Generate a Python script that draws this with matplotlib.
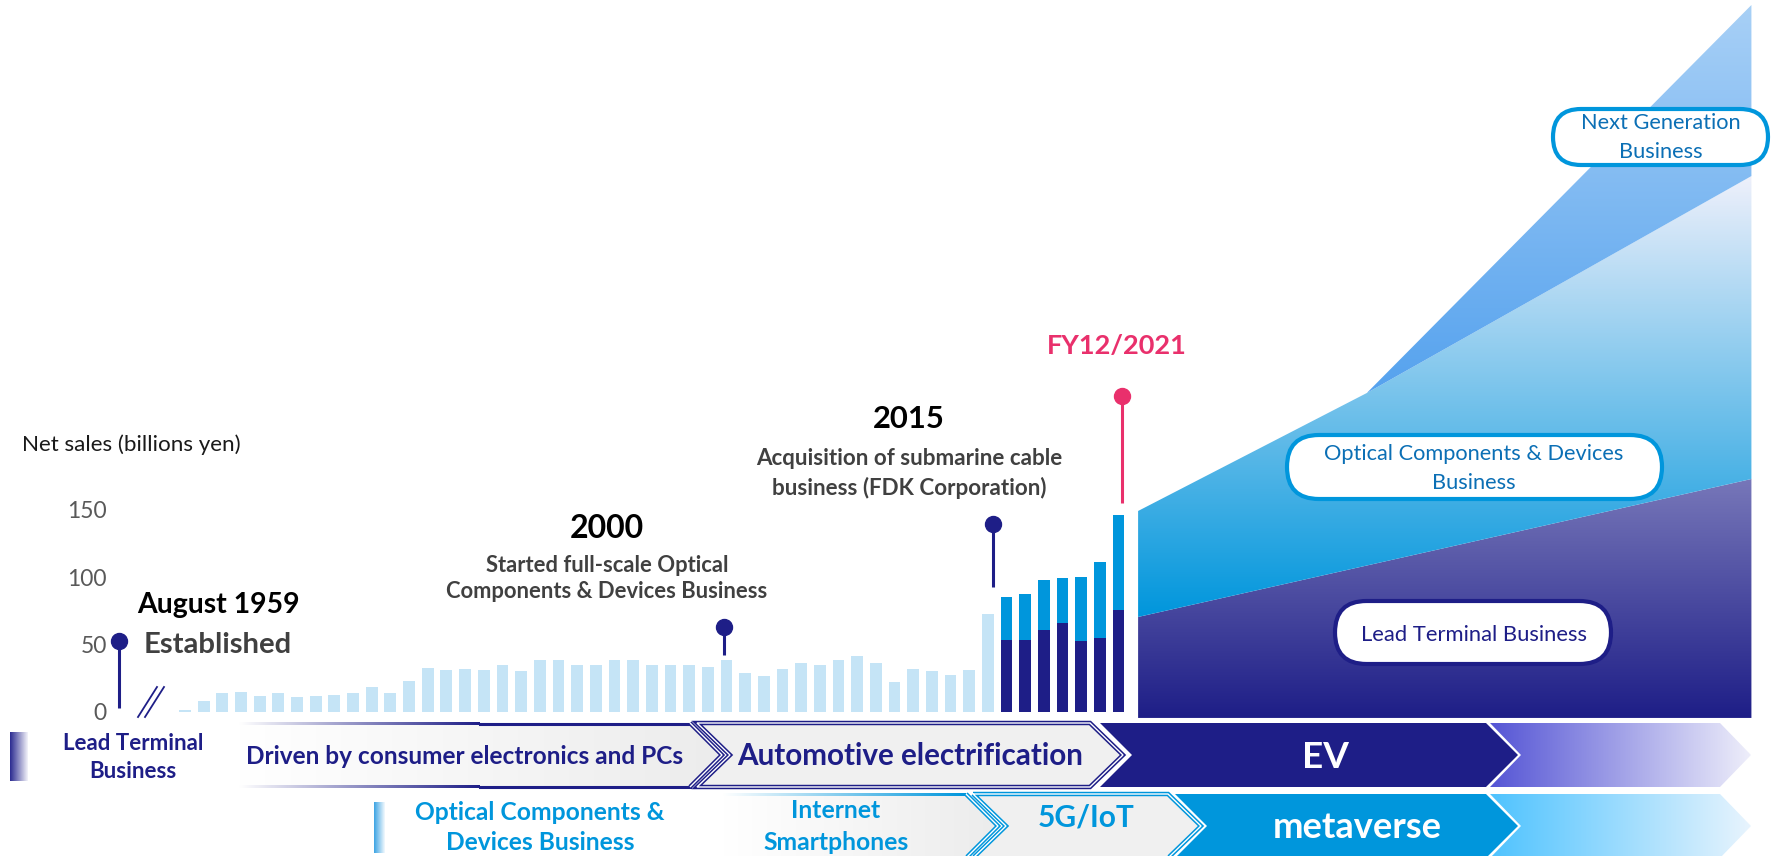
import numpy as np
import matplotlib.pyplot as plt
from matplotlib.patches import Polygon, FancyBboxPatch
from matplotlib.colors import to_rgba

plt.rcParams['font.family'] = ['Lato', 'DejaVu Sans']

#---------------------------- data ----------------------------
# net sales, billions of yen
years_old = list(range(1971, 2015))
sales_old = [1.2, 8.2, 13.8, 14.6, 12.1, 13.8, 11.4, 12.1, 12.8, 14.3,
             18.3, 14.3, 23.2, 32.6, 31.4, 31.9, 31.1, 35.1, 30.6, 38.3,
             38.8, 35.1, 35.1, 38.3, 38.5, 35.1, 35.1, 35.1, 33.6, 38.4,
             28.8, 26.9, 31.9, 36.3, 34.8, 38.5, 41.2, 36.3, 22.0, 32.1,
             30.1, 27.4, 30.9, 72.6]
years_seg = list(range(2015, 2022))
lead_sales = [53.6, 53.6, 60.5, 65.7, 52.6, 55.1, 75.8]
optical_sales = [31.6, 33.6, 37.0, 33.8, 47.4, 55.9, 70.1]
yticks = [0, 50, 100, 150]

# milestone pins: x position, stem bottom, pin head (same units as bars)
pin_x = [1967.46, 1999.85, 2014.28, 2021.19]
pin_base = [3.0, 42.2, 92.6, 154.8]
pin_top = [52.6, 63.0, 139.3, 234.0]

# outlook wedge after FY2021 (schematic)
out_x = [2022.05, 2034.3, 2054.9]
out_floor = -4.4
out_lead = [70.4, 172.6]          # at out_x[0], out_x[2]
out_optical = [148.9, 236.3, 397.0]
out_next = [236.3, 523.7]         # at out_x[1], out_x[2]

NAVY = '#1E1E87'
BLUE = '#0096DC'
LIGHT = '#C5E4F6'
PINK = '#E9306C'
GREY = '#404040'
BOXTXT = '#0B6FB5'

W, H = 1771, 856
fig = plt.figure(figsize=(W / 100, H / 100), dpi=100)

#------------------ bar axes (full figure) ------------------
# year 1971 sits at x=185px, 18.67px per year; value 0 at y=712px, 1.35px per billion
ax = fig.add_axes([0, 0, 1, 1])
ax.set_xlim(1971 - 185 / 18.67, 1971 + (W - 185) / 18.67)
ax.set_ylim(-(H - 712) / 1.35, 712 / 1.35)
for s in ax.spines.values():
    s.set_visible(False)
ax.set_xticks([])
ax.set_yticks(yticks)
ax.tick_params(axis='y', length=0, pad=-77, labelsize=16.5, labelcolor='#595959')

ax.bar(years_old, sales_old, width=0.63, color=LIGHT)
ax.bar(years_seg, lead_sales, width=0.63, color=NAVY)
ax.bar(years_seg, optical_sales, width=0.63, bottom=lead_sales, color=BLUE)

for x, b, t, c in zip(pin_x, pin_base, pin_top, [NAVY, NAVY, NAVY, PINK]):
    ax.plot([x, x], [b, t], color=c, lw=2.2, solid_capstyle='butt')
    ax.plot(x, t, 'o', ms=11.5, color=c)


def grad(axis, pts, c0, c1, vertical=False, z=1):
    # polygon filled with a linear gradient (c0 left/top -> c1 right/bottom)
    poly = Polygon(pts, closed=True, fc='none', ec='none')
    axis.add_patch(poly)
    xs = [p[0] for p in pts]
    ys = [p[1] for p in pts]
    t = np.linspace(0, 1, 256)[:, None]
    a, b = np.array(to_rgba(c0)), np.array(to_rgba(c1))
    cols = a + (b - a) * t
    img = cols[:, None, :] if vertical else cols[None, :, :]
    if axis.yaxis_inverted():
        ext = (min(xs), max(xs), max(ys), min(ys))
    else:
        ext = (min(xs), max(xs), min(ys), max(ys))
    im = axis.imshow(img, extent=ext, aspect='auto', interpolation='bilinear', zorder=z)
    im.set_clip_path(poly)


# outlook wedge
grad(ax, [(out_x[0], out_floor), (out_x[0], out_lead[0]), (out_x[2], out_lead[1]),
          (out_x[2], out_floor)], '#7777B9', NAVY, vertical=True)
grad(ax, [(out_x[0], out_lead[0]), (out_x[0], out_optical[0]), (out_x[1], out_optical[1]),
          (out_x[2], out_optical[2]), (out_x[2], out_lead[1])], '#EEF0FB', BLUE, vertical=True)
grad(ax, [(out_x[1], out_next[0]), (out_x[2], out_next[1]), (out_x[2], out_optical[2])],
     '#A8D0F6', '#55A2EE', vertical=True)

#------------------ decoration axes (pixel coords) ------------------
dk = fig.add_axes([0, 0, 1, 1])
dk.set_xlim(0, W)
dk.set_ylim(H, 0)
dk.axis('off')


def label(x, y, s, w=None, size=None, ha='center', **kw):
    t = dk.text(x, y, s, ha=ha, va='center', fontsize=size or 14, **kw)
    if w:
        r = fig.canvas.get_renderer()
        t.set_fontsize(t.get_fontsize() * w / t.get_window_extent(renderer=r).width)
    return t.get_fontsize()


def chevron(x0, x1, y0, y1, d, notch=True):
    ym = (y0 + y1) / 2
    pts = [(x0, y0), (x1, y0), (x1 + d, ym), (x1, y1), (x0, y1)]
    if notch:
        pts.append((x0 + d, ym))
    return pts


def double_line(pts, c, closed=True):
    dk.add_patch(Polygon(pts, closed=closed, fill=False, ec=c, lw=3.2, joinstyle='miter', zorder=3))
    dk.add_patch(Polygon(pts, closed=closed, fill=False, ec='white', lw=1.0, joinstyle='miter', zorder=3))


# break mark
dk.plot([138, 157], [717, 687], color=NAVY, lw=1.3)
dk.plot([145, 164], [717, 687], color=NAVY, lw=1.3)

# row 1
r0, r1 = 723, 787
grad(dk, chevron(239, 690, r0, r1, 32, notch=False), '#FFFFFF', '#ECECEC')
grad(dk, [(239, r0 - 1), (480, r0 - 1), (480, r0 + 2), (239, r0 + 2)], '#FFFFFF', NAVY, z=3)
grad(dk, [(239, r1 - 2), (480, r1 - 2), (480, r1 + 1), (239, r1 + 1)], '#FFFFFF', NAVY, z=3)
dk.plot([480, 690], [r0 + 0.5, r0 + 0.5], color=NAVY, lw=2.2, zorder=3)
dk.plot([480, 690], [r1 - 0.5, r1 - 0.5], color=NAVY, lw=2.2, zorder=3)
double_line([(690, r0), (722, (r0 + r1) / 2), (690, r1)], NAVY, closed=False)
pts = chevron(697, 1090, r0, r1, 33)
dk.add_patch(Polygon(pts, fc='#F0F0F0', ec='none', zorder=2))
double_line(pts, NAVY)
dk.add_patch(Polygon(chevron(1100, 1486, r0, r1, 32), fc=NAVY, ec='none', zorder=2))
grad(dk, chevron(1490, 1720, r0, r1, 31), '#5555D5', '#EEEEFA', z=2)

# row 2
q0, q1 = 794, 858
grad(dk, chevron(723, 966, q0, q1, 32, notch=False), '#FFFFFF', '#ECECEC')
grad(dk, [(723, q0 - 1), (966, q0 - 1), (966, q0 + 2), (723, q0 + 2)], '#FFFFFF', BLUE, z=3)
double_line([(966, q0), (998, (q0 + q1) / 2), (966, q1)], BLUE, closed=False)
pts = chevron(973, 1168, q0, q1, 33)
dk.add_patch(Polygon(pts, fc='#F0F0F0', ec='none', zorder=2))
double_line(pts, BLUE)
dk.add_patch(Polygon(chevron(1175, 1486, q0, q1, 32), fc=BLUE, ec='none', zorder=2))
grad(dk, chevron(1490, 1720, q0, q1, 31), '#4FC3FF', '#E8F4FD', z=2)

# small side bars
grad(dk, [(10, 732), (28, 732), (28, 781), (10, 781)], '#2A2A90', '#F4F4FA', z=2)
grad(dk, [(374, 802), (385, 802), (385, 853), (374, 853)], '#3BA3E3', '#F4FAFE', z=2)

# pill boxes
for (x0, y0, x1, y1), ec in [((1553, 109, 1768, 165), BLUE),
                             ((1287, 435, 1662, 499), BLUE),
                             ((1335, 601, 1611, 664), NAVY)]:
    h = y1 - y0
    dk.add_patch(FancyBboxPatch((x0, y0), x1 - x0, h,
                                boxstyle='round,pad=0,rounding_size=%f' % (h / 2),
                                fc='white', ec=ec, lw=3.0, zorder=4))

# texts
label(22, 445, 'Net sales (billions yen)', w=219, ha='left', color='#1A1A1A')
label(218, 605, 'August 1959', w=163, weight='bold', color='black')
label(218, 645, 'Established', w=149, weight='bold', color=GREY)
label(607, 528, '2000', w=75, weight='bold', color='black')
fs = label(607, 591, 'Components & Devices Business', w=322, weight='bold', color=GREY)
label(607, 565, 'Started full-scale Optical', size=fs, weight='bold', color=GREY)
label(909, 419, '2015', w=72, weight='bold', color='black')
fs = label(909, 458, 'Acquisition of submarine cable', w=308, weight='bold', color=GREY)
label(909, 488, 'business (FDK Corporation)', size=fs, weight='bold', color=GREY)
label(1117, 346, 'FY12/2021', w=140, weight='bold', color=PINK)

fs = label(133, 743, 'Lead Terminal', w=141, weight='bold', color=NAVY)
label(133, 772, 'Business', size=fs, weight='bold', color=NAVY)
label(465, 757, 'Driven by consumer electronics and PCs', w=438, weight='bold', color=NAVY, zorder=5)
label(910, 756, 'Automotive electrification', w=348, weight='bold', color=NAVY, zorder=5)
label(1325, 757, 'EV', w=47, weight='bold', color='white', zorder=5)
fs = label(540, 813, 'Optical Components &', w=251, weight='bold', color=BLUE)
label(540, 843, 'Devices Business', size=fs, weight='bold', color=BLUE)
fs = label(836, 843, 'Smartphones', w=147, weight='bold', color=BLUE, zorder=5)
label(836, 810, 'Internet', size=fs, weight='bold', color=BLUE, zorder=5)
label(1086, 817, '5G/IoT', w=97, weight='bold', color=BLUE, zorder=5)
label(1357, 827, 'metaverse', w=170, weight='bold', color='white', zorder=5)

fs = label(1661, 123, 'Next Generation', w=160, color=BOXTXT, zorder=5)
label(1661, 152, 'Business', size=fs, color=BOXTXT, zorder=5)
fs = label(1474, 454, 'Optical Components & Devices', w=300, color=BOXTXT, zorder=5)
label(1474, 483, 'Business', size=fs, color=BOXTXT, zorder=5)
label(1474, 635, 'Lead Terminal Business', w=227, color=NAVY, zorder=5)

fig.savefig('out.png', dpi=100, facecolor='white')
